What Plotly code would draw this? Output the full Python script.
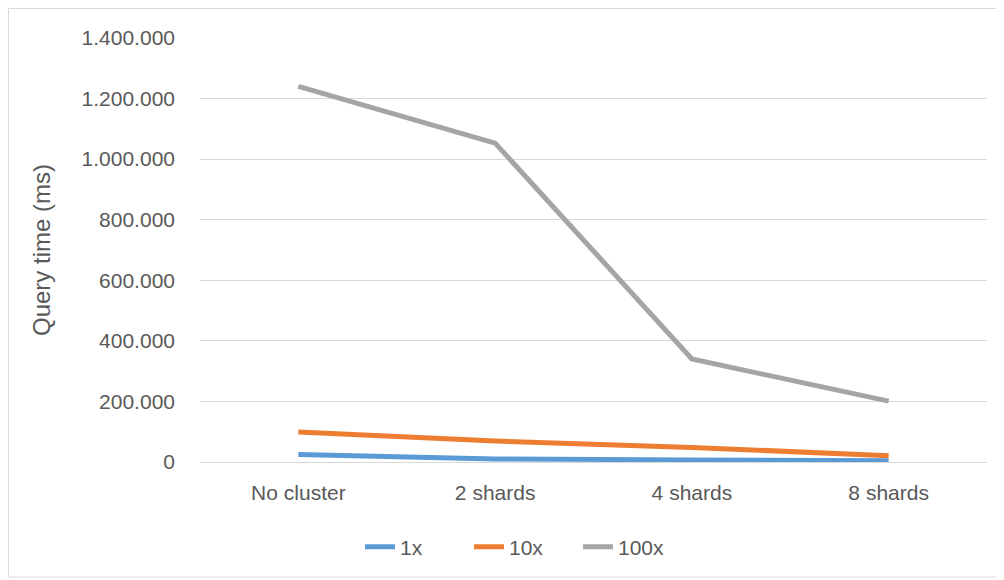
import plotly.graph_objects as go

categories = ["No cluster", "2 shards", "4 shards", "8 shards"]
series_names = ["1x", "10x", "100x"]
values_1x = [25000, 10000, 7000, 4000]
values_10x = [99000, 69000, 48000, 21000]
values_100x = [1240000, 1053000, 340000, 201000]
colors = ["#5B9BD5", "#ED7D31", "#A5A5A5"]
y_ticks = [0, 200000, 400000, 600000, 800000, 1000000, 1200000, 1400000]

fig = go.Figure()
for name, vals, col in zip(series_names, [values_1x, values_10x, values_100x], colors):
    fig.add_trace(go.Scatter(x=categories, y=vals, name=name, mode="lines",
                             line=dict(color=col, width=5)))

# page body has an 8px margin, so the figure is drawn 8px smaller and shifted
OFF = 8
W, H = 1004 - OFF, 580 - OFF
L, R, T, B = 200 - OFF, 17, 38 - OFF, 118
pw, ph = W - L - R, H - T - B
bottom = T + ph  # plot bottom in figure pixels

fig.update_layout(
    width=W, height=H,
    margin=dict(l=L, r=R, t=T, b=B),
    paper_bgcolor="white", plot_bgcolor="white",
    separators=",.",
    font=dict(family="Liberation Sans, Arial, sans-serif", size=21, color="#595959"),
    showlegend=True,
    legend=dict(orientation="h", x=(360 - OFF - L) / pw, xanchor="left",
                y=(bottom - (547 - OFF)) / ph, yanchor="middle",
                entrywidth=64, font=dict(size=21, color="#595959")),
    xaxis=dict(range=[-0.5, 3.5], showgrid=False, zeroline=False, showline=False,
               ticks="", ticklabelstandoff=16, tickfont=dict(size=21, color="#595959")),
    yaxis=dict(range=[0, 1400000], tickvals=y_ticks, tickformat=",d",
               showgrid=True, gridcolor="#D9D9D9", gridwidth=1,
               zeroline=True, zerolinecolor="#D9D9D9", zerolinewidth=1,
               showline=False, ticks="", ticklabelstandoff=24,
               tickfont=dict(size=21, color="#595959"),
               title=dict(text="Query time (ms)", font=dict(size=24, color="#595959"), standoff=24)),
    shapes=[dict(type="rect", xref="paper", yref="paper",
                 x0=(0.5 - L) / pw, x1=(999 - OFF - L) / pw,
                 y0=(bottom - (577 - OFF)) / ph, y1=(bottom - 0.5) / ph,
                 line=dict(color="#D9D9D9", width=1), fillcolor="rgba(0,0,0,0)", layer="below")],
)

fig.write_html("out.html")
